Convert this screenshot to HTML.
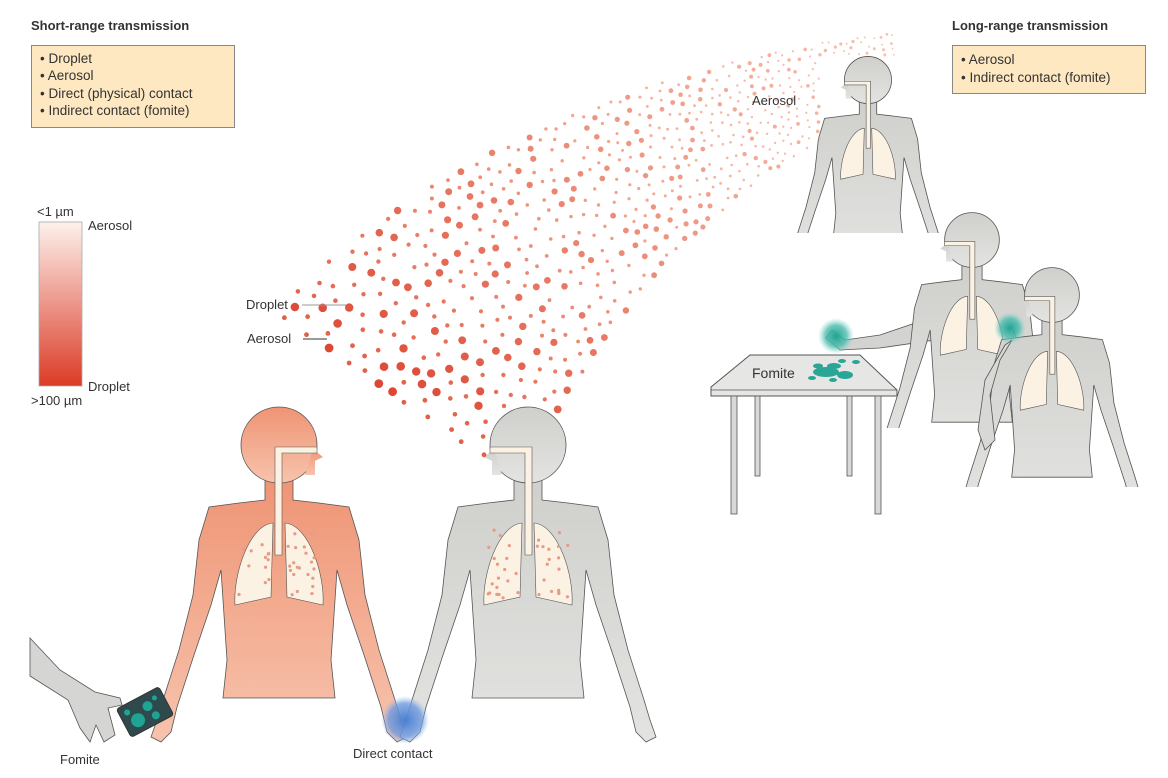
<!DOCTYPE html>
<html><head><meta charset="utf-8">
<style>
html,body{margin:0;padding:0;background:#fff;}
body{width:1168px;height:778px;overflow:hidden;position:relative;font-family:"Liberation Sans",sans-serif;}
svg{position:absolute;left:0;top:0;}
text{font-family:"Liberation Sans",sans-serif;fill:#333;}
</style></head><body>
<svg id="s" width="1168" height="778" viewBox="0 0 1168 778" xmlns="http://www.w3.org/2000/svg">
<defs>
<linearGradient id="bar" x1="0" y1="0" x2="0" y2="1"><stop offset="0" stop-color="#fdf1ec"/><stop offset="1" stop-color="#db3b26"/></linearGradient>
<linearGradient id="org" x1="0" y1="0" x2="0" y2="1"><stop offset="0" stop-color="#ef9474"/><stop offset="1" stop-color="#f7c3ad"/></linearGradient>
<linearGradient id="gry" x1="0" y1="0" x2="0" y2="1"><stop offset="0" stop-color="#cfcfcc"/><stop offset="1" stop-color="#e3e3e1"/></linearGradient>
<radialGradient id="blue"><stop offset="0" stop-color="#4a7fd0"/><stop offset="0.7" stop-color="#6f9be0" stop-opacity="0.8"/><stop offset="1" stop-color="#9cbdf0" stop-opacity="0"/></radialGradient>
<radialGradient id="teal"><stop offset="0" stop-color="#1fa393"/><stop offset="0.6" stop-color="#4dbcae" stop-opacity="0.8"/><stop offset="1" stop-color="#8ad6cc" stop-opacity="0"/></radialGradient>
<clipPath id="c0"><rect x="0" y="0" width="1168" height="778"/></clipPath>
<clipPath id="c2"><rect x="0" y="0" width="1168" height="233"/></clipPath>
<clipPath id="c3"><rect x="0" y="0" width="1168" height="428"/></clipPath>
<clipPath id="c4"><rect x="0" y="0" width="1168" height="487"/></clipPath>
</defs>
<g id="people"></g>
<g id="dots"></g>

<polygon points="711,387 750,355 860,355 897,390 897,396 711,396" fill="#e6e6e4" stroke="#555" stroke-width="1"/>
<line x1="711" y1="390" x2="897" y2="390" stroke="#555" stroke-width="0.8"/>
<rect x="731" y="396" width="6" height="118" fill="#d8d8d6" stroke="#555" stroke-width="0.8"/>
<rect x="755" y="396" width="5" height="80" fill="#d8d8d6" stroke="#555" stroke-width="0.8"/>
<rect x="847" y="396" width="5" height="80" fill="#d8d8d6" stroke="#555" stroke-width="0.8"/>
<rect x="875" y="396" width="6" height="118" fill="#d8d8d6" stroke="#555" stroke-width="0.8"/>
<g fill="#2aa596">
<ellipse cx="826" cy="372" rx="13" ry="5"/><ellipse cx="845" cy="375" rx="8" ry="4"/><ellipse cx="834" cy="366" rx="7" ry="3"/>
<ellipse cx="818" cy="366" rx="5" ry="2.5"/><ellipse cx="812" cy="378" rx="4" ry="2"/><ellipse cx="833" cy="380" rx="4" ry="2"/>
<ellipse cx="842" cy="361" rx="4" ry="2"/><ellipse cx="856" cy="362" rx="4" ry="2"/>
</g>
<text x="752" y="378" font-size="14">Fomite</text>

<circle cx="836" cy="336" r="18" fill="url(#teal)"/>
<circle cx="1010" cy="328" r="16" fill="url(#teal)"/>
<circle cx="405" cy="720" r="24" fill="url(#blue)"/>

<path d="M30,638 L60,670 L95,692 L120,698 L122,705 L108,708 L115,735 L104,742 L96,725 L90,742 L80,728 L68,700 L30,676 Z" fill="#d5d5d3" stroke="#555" stroke-width="0.8"/>
<g transform="translate(145,712) rotate(-28)">
<rect x="-24" y="-16" width="48" height="32" rx="3" fill="#2f4a4c" stroke="#333"/>
<circle cx="-10" cy="4" r="7" fill="#1fa393"/><circle cx="5" cy="-4" r="5" fill="#1fa393"/><circle cx="8" cy="8" r="4" fill="#1fa393"/><circle cx="-16" cy="-8" r="3" fill="#1fa393"/><circle cx="15" cy="-8" r="2.5" fill="#1fa393"/>
</g>

<rect x="39" y="222" width="43" height="164" fill="url(#bar)" stroke="#aaa" stroke-width="0.8"/>
<text x="37" y="216" font-size="13">&lt;1 µm</text>
<text x="88" y="230" font-size="13">Aerosol</text>
<text x="88" y="391" font-size="13">Droplet</text>
<text x="31" y="405" font-size="13">&gt;100 µm</text>

<text x="246" y="309" font-size="13">Droplet</text>
<line x1="302" y1="305" x2="346" y2="305" stroke="#999" stroke-width="1"/>
<text x="247" y="343" font-size="13">Aerosol</text>
<line x1="303" y1="339" x2="327" y2="339" stroke="#333" stroke-width="1"/>
<text x="752" y="105" font-size="13">Aerosol</text>
<text x="60" y="764" font-size="13">Fomite</text>
<text x="353" y="758" font-size="13">Direct contact</text>

<text x="31" y="30" font-size="13" font-weight="bold" fill="#222">Short-range transmission</text>
<rect x="31.5" y="45.5" width="203" height="82" fill="#fde8c2" stroke="#888"/>
<text font-size="13.5" fill="#333"><tspan x="40" y="63">• Droplet</tspan><tspan x="40" y="80">• Aerosol</tspan><tspan x="40" y="98">• Direct (physical) contact</tspan><tspan x="40" y="115">• Indirect contact (fomite)</tspan></text>
<text x="952" y="30" font-size="13" font-weight="bold" fill="#222">Long-range transmission</text>
<rect x="952.5" y="45.5" width="193" height="48" fill="#fde8c2" stroke="#888"/>
<text font-size="13.5" fill="#333"><tspan x="961" y="64">• Aerosol</tspan><tspan x="961" y="82">• Indirect contact (fomite)</tspan></text>
</svg>
<script>
(function(){
var NS="http://www.w3.org/2000/svg";
function el(t,a,p){var e=document.createElementNS(NS,t);for(var k in a)e.setAttribute(k,a[k]);p.appendChild(e);return e;}
var R=[[14,30],[14,55],[40,58],[70,62],[80,95],[86,150],[100,205],[116,255],[122,275],[128,292],[118,297],[108,287],[102,262],[85,210],[68,160],[58,125],[55,170],[52,215],[56,253]];
function body(g,cx,cy,s,face,fill,clip){
  var gg=el('g',{'clip-path':'url(#'+clip+')'},g);
  var pts=[];
  for(var i=0;i<R.length;i++)pts.push([R[i][0],R[i][1]]);
  var L=[];for(var i=R.length-1;i>=0;i--)L.push([-R[i][0],R[i][1]]);
  var all=pts.concat(L);
  var d='M'+all.map(function(p){return (cx+p[0]*s).toFixed(1)+','+(cy+p[1]*s).toFixed(1);}).join(' L')+'Z';
  el('path',{d:d,fill:fill,stroke:'#555','stroke-width':0.8},gg);
  el('circle',{cx:cx,cy:cy,r:38*s,fill:fill,stroke:'#555','stroke-width':0.8},gg);
  el('path',{d:'M'+(cx+face*34*s)+','+(cy+4*s)+' l'+(face*10*s)+','+(8*s)+' l'+(-face*8*s)+','+(4*s)+' l0,'+(14*s)+' l'+(-face*10*s)+',0 z',fill:fill},gg);
  el('path',{d:'M'+(cx+face*38*s)+','+(cy+2*s)+' L'+(cx-face*4*s)+','+(cy+2*s)+' L'+(cx-face*4*s)+','+(cy+110*s)+' L'+(cx+face*3*s)+','+(cy+110*s)+' L'+(cx+face*3*s)+','+(cy+8*s)+' L'+(cx+face*38*s)+','+(cy+8*s)+'Z',fill:'#fbf2e3',stroke:'#555','stroke-width':0.6},gg);
  el('path',{d:'M'+(cx-6*s)+','+(cy+78*s)+' C'+(cx-30*s)+','+(cy+80*s)+' '+(cx-46*s)+','+(cy+130*s)+' '+(cx-44*s)+','+(cy+160*s)+' L'+(cx-8*s)+','+(cy+152*s)+' Z',fill:'#fbf2e3',stroke:'#555','stroke-width':0.6},gg);
  el('path',{d:'M'+(cx+6*s)+','+(cy+78*s)+' C'+(cx+30*s)+','+(cy+80*s)+' '+(cx+46*s)+','+(cy+130*s)+' '+(cx+44*s)+','+(cy+160*s)+' L'+(cx+8*s)+','+(cy+152*s)+' Z',fill:'#fbf2e3',stroke:'#555','stroke-width':0.6},gg);
  return gg;
}
var P=document.getElementById('people');
var seed=7;function rnd(){seed=(seed*16807)%2147483647;return seed/2147483647;}
body(P,279,445,1,1,'url(#org)','c0');
body(P,528,445,1,-1,'url(#gry)','c0');
body(P,868,80,0.62,-1,'url(#gry)','c2');
el('path',{d:'M930,318 L880,335 L845,340 L832,330 L826,338 L840,350 L880,348 L935,340 Z',fill:'#d3d3d1',stroke:'#555','stroke-width':0.8},P);
body(P,972,240,0.72,-1,'url(#gry)','c3');
body(P,1052,295,0.72,-1,'url(#gry)','c4');
el('path',{d:'M1005,345 L985,380 L978,430 L985,450 L995,440 L990,395 L1000,360 L1012,340 Z',fill:'#d8d8d6',stroke:'#555','stroke-width':0.8},P);
[[279,445],[528,445]].forEach(function(c){for(var i=0;i<40;i++){var x=c[0]+(rnd()-0.5)*80,y=c[1]+85+rnd()*70;if(Math.abs(x-c[0])<9)continue;el('circle',{cx:x,cy:y,r:1.6,fill:'#e79a84'},P);}});
var D=document.getElementById('dots');
function bz(t,a,b,c){return (1-t)*(1-t)*a+2*(1-t)*t*b+t*t*c;}
var p0=[400,400],p1=[560,170],p2=[900,60];
var placed=[];
var n=0;
for(var i=0;i<6000&&n<700;i++){
  var t=Math.pow(rnd(),1.2);
  var x=bz(t,p0[0],p1[0],p2[0]),y=bz(t,p0[1],p1[1],p2[1]);
  var dx=2*(1-t)*(p1[0]-p0[0])+2*t*(p2[0]-p1[0]),dy=2*(1-t)*(p1[1]-p0[1])+2*t*(p2[1]-p1[1]);
  var l=Math.sqrt(dx*dx+dy*dy);var nx=-dy/l,ny=dx/l;
  var w=(1-t)*125+30;var o=(rnd()-0.5)*2*w;
  x+=nx*o;y+=ny*o;
  if(x<280)continue;
  if((x-279)*(x-279)+(y-445)*(y-445)<50*50)continue;
  if((x-528)*(x-528)+(y-445)*(y-445)<45*45)continue;
  if(y>515)continue;
  if(x>820&&x<940&&y>55&&y<240)continue;
  var md=(1-t)*9+5,ok=true;
  for(var j=0;j<placed.length;j++){var q=placed[j];if((q[0]-x)*(q[0]-x)+(q[1]-y)*(q[1]-y)<md*md){ok=false;break;}}
  if(!ok)continue;
  placed.push([x,y]);n++;
  var big=rnd()<0.35;
  var r=big?(1-t)*3+1.4:(1-t)*1.5+0.9;
  var tt=big?t:Math.min(1,t+0.25);
  var cr=Math.round(220+tt*24),cg=Math.round(72+tt*90),cb=Math.round(52+tt*80);
  el('circle',{cx:x.toFixed(1),cy:y.toFixed(1),r:r.toFixed(1),fill:'rgb('+cr+','+cg+','+cb+')',opacity:(1-t*0.35).toFixed(2)},D);
}
})();
</script>
</body></html>
